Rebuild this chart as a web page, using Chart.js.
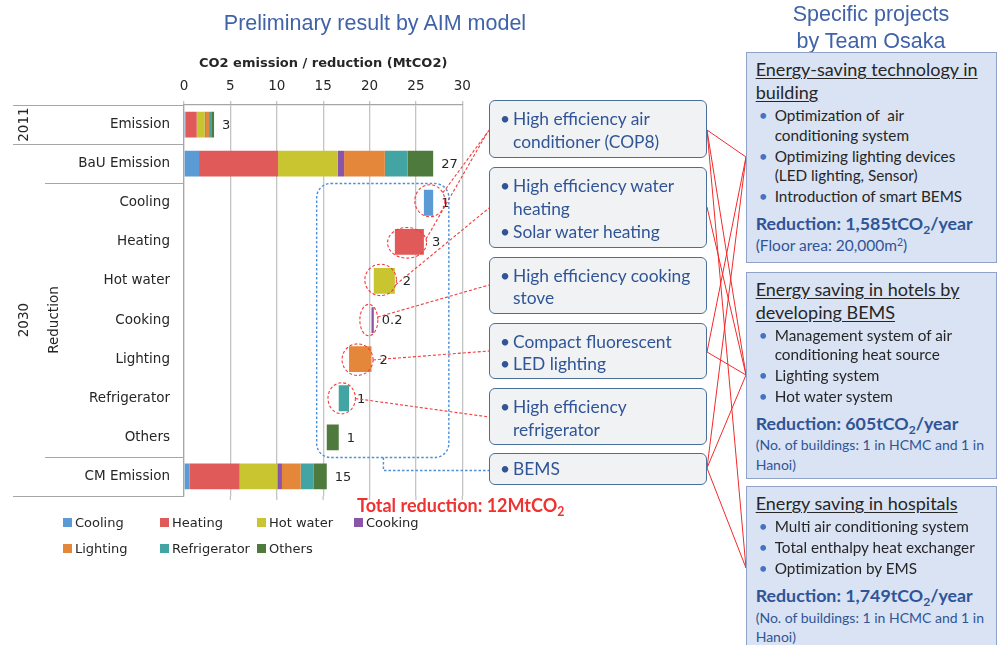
<!DOCTYPE html>
<html>
<head>
<meta charset="utf-8">
<script src="https://cdn.jsdelivr.net/npm/chart.js@4.4.0/dist/chart.umd.min.js"></script>
<style>
html,body{margin:0;padding:0;background:#fff;}
#wrap{position:relative;width:998px;height:645px;overflow:hidden;background:#fff;}
#c{position:absolute;left:0;top:0;}
.t{position:absolute;white-space:nowrap;}
.ttl{font-family:"Liberation Sans",Arial,sans-serif;font-size:21.5px;color:#4063a8;transform:translate(-50%,-50%);text-align:center;}
.mb{position:absolute;left:489px;width:218px;box-sizing:border-box;background:#f1f2f4;border:1.5px solid #4a6f98;border-radius:6px;padding-top:7px;font-family:Lato,sans-serif;font-size:17.4px;color:#2f5597;white-space:nowrap;}
.mi{position:relative;padding-left:23px;line-height:22.5px;}
.mi::before{content:'\2022';position:absolute;left:10px;}
.rb{position:absolute;left:746px;width:251px;box-sizing:border-box;background:#dae3f3;border:1.3px solid #8ea3c6;padding:5.2px 2px 0 8.7px;font-family:Lato,sans-serif;color:#262626;white-space:nowrap;}
.hd{font-size:18px;line-height:23px;text-decoration:underline;text-underline-offset:2px;}
.li{position:relative;font-size:15.3px;line-height:19.5px;padding-left:19px;margin-top:1.5px;}
.li::before{content:'\2022';position:absolute;left:3px;color:#4472c4;}
.red{font-weight:bold;color:#2f5597;font-size:17.8px;line-height:24px;margin-top:4px;}
.note{font-size:14px;line-height:19.3px;color:#2f5597;margin-top:0.5px;}
sub{font-size:0.68em;vertical-align:-0.3em;line-height:0;}
sup{font-size:0.68em;vertical-align:0.45em;line-height:0;}
#legend{position:absolute;left:0;top:0;}
.lg{position:absolute;font-family:"DejaVu Sans",Verdana,sans-serif;font-size:13px;color:#262626;white-space:nowrap;line-height:16px;transform:translateY(-50%);}
.lg i{display:inline-block;width:9px;height:9px;margin-right:3px;vertical-align:0px;}
#total{left:357px;top:505px;transform:translateY(-50%);font-family:Lato,sans-serif;font-weight:bold;font-size:18px;color:#f03232;}
</style>
</head>
<body>
<div id="wrap">
<canvas id="c" width="998" height="645"></canvas>

<div class="t ttl" style="left:375px;top:23px;">Preliminary result by AIM model</div>
<div class="t ttl" style="left:871px;top:28px;line-height:26.7px;">Specific projects<br>by Team Osaka</div>

<div class="mb" style="top:100px;height:58.3px;">
  <div class="mi">High efficiency air<br>conditioner (COP8)</div>
</div>
<div class="mb" style="top:167.3px;height:81px;">
  <div class="mi">High efficiency water<br>heating</div>
  <div class="mi" style="margin-top:1px;">Solar water heating</div>
</div>
<div class="mb" style="top:256.7px;height:57.3px;">
  <div class="mi">High efficiency cooking<br>stove</div>
</div>
<div class="mb" style="top:322.7px;height:56.6px;">
  <div class="mi">Compact fluorescent</div>
  <div class="mi">LED lighting</div>
</div>
<div class="mb" style="top:388.3px;height:56.7px;">
  <div class="mi">High efficiency<br>refrigerator</div>
</div>
<div class="mb" style="top:452.7px;height:32.3px;padding-top:4.5px;">
  <div class="mi">BEMS</div>
</div>

<div class="rb" style="top:52px;height:211px;">
  <div class="hd">Energy-saving technology in<br>building</div>
  <div class="li" style="margin-top:2px;">Optimization of&nbsp; air<br>conditioning system</div>
  <div class="li">Optimizing lighting devices<br>(LED lighting, Sensor)</div>
  <div class="li">Introduction of smart BEMS</div>
  <div class="red">Reduction: 1,585tCO<sub>2</sub>/year</div>
  <div class="note" style="font-size:15.5px;margin-top:1px;">(Floor area: 20,000m<sup>2</sup>)</div>
</div>
<div class="rb" style="top:271.7px;height:207px;">
  <div class="hd">Energy saving in hotels by<br>developing BEMS</div>
  <div class="li" style="margin-top:2px;">Management system of air<br>conditioning heat source</div>
  <div class="li">Lighting system</div>
  <div class="li">Hot water system</div>
  <div class="red">Reduction: 605tCO<sub>2</sub>/year</div>
  <div class="note">(No. of buildings: 1 in HCMC and 1 in<br>Hanoi)</div>
</div>
<div class="rb" style="top:486px;height:170px;">
  <div class="hd">Energy saving in hospitals</div>
  <div class="li" style="margin-top:2px;">Multi air conditioning system</div>
  <div class="li">Total enthalpy heat exchanger</div>
  <div class="li">Optimization by EMS</div>
  <div class="red" style="margin-top:4.5px;">Reduction: 1,749tCO<sub>2</sub>/year</div>
  <div class="note">(No. of buildings: 1 in HCMC and 1 in<br>Hanoi)</div>
</div>

<div class="t" id="total">Total reduction: 12MtCO<sub>2</sub></div>
<div id="legend"></div>
</div>

<script>
// ---------- data ----------
const categories = ["Emission","BaU Emission","Cooling","Heating","Hot water","Cooking","Lighting","Refrigerator","Others","CM Emission"];
const endUses = ["Cooling","Heating","Hot water","Cooking","Lighting","Refrigerator","Others"];
const emission2011    = [0.18, 1.19, 0.86, 0.11, 0.36, 0.32, 0.22];
const bauEmission2030 = [1.62, 8.52, 6.44, 0.68, 4.39, 2.45, 2.76];
const reduction2030   = [1.00, 3.13, 2.27, 0.25, 2.42, 1.11, 1.29];
const cmEmission2030  = [0.61, 5.39, 4.06, 0.50, 2.02, 1.37, 1.44];
const valueLabels = ["3","27","1","3","2","0.2","2","1","1","15"];
const xTicks = [0, 5, 10, 15, 20, 25, 30];
const axisTitle = "CO2 emission / reduction (MtCO2)";

// ---------- styles ----------
const colors = ["#5b9bd5","#e05a5a","#c8c531","#8a55a6","#e5873a","#43a5a3","#4e7a3d"];
const FONT = '"DejaVu Sans", Verdana, sans-serif';
const TXT = '#262626';

// waterfall positions for the reductions (from BaU total downward)
const bauTotal = bauEmission2030.reduce((a,b)=>a+b,0);
let run = bauTotal;
const redRanges = reduction2030.map(v => { const hi = run; run -= v; return [run, hi]; });

const datasets = endUses.map((name, k) => {
  const data = categories.map(() => null);
  data[0] = emission2011[k];
  data[1] = bauEmission2030[k];
  data[2 + k] = redRanges[k];
  data[9] = cmEmission2030[k];
  return { label: name, data, backgroundColor: colors[k], borderWidth: 0,
           barPercentage: 0.66, categoryPercentage: 1.0 };
});

// legend (HTML, built from the data arrays)
const legendPos = [[63,523],[160,523],[257,523],[354,523],[63,549],[160,549],[257,549]];
const lgEl = document.getElementById('legend');
endUses.forEach((n,k) => {
  const d = document.createElement('div');
  d.className = 'lg';
  d.style.left = legendPos[k][0] + 'px';
  d.style.top = legendPos[k][1] + 'px';
  d.innerHTML = '<i style="background:' + colors[k] + '"></i>' + n;
  lgEl.appendChild(d);
});

// ---------- plugins ----------
const valueLabelPlugin = {
  id: 'valueLabels',
  afterDatasetsDraw(chart) {
    const ctx = chart.ctx;
    ctx.save();
    ctx.font = '13px ' + FONT;
    ctx.fillStyle = TXT;
    ctx.textBaseline = 'middle';
    ctx.textAlign = 'left';
    categories.forEach((c, i) => {
      let maxX = -Infinity, yy = null;
      chart.data.datasets.forEach((ds, k) => {
        if (ds.data[i] === null) return;
        const el = chart.getDatasetMeta(k).data[i];
        const e = Math.max(el.x, el.base);
        if (e > maxX) { maxX = e; yy = el.y; }
      });
      if (yy !== null) ctx.fillText(valueLabels[i], maxX + 8, yy + 1);
    });
    ctx.restore();
  }
};

const rings = [
  {k:0, rx:15,   ry:16,   dx:1.3,  dy:-2,  ang:-30, to:[490,129]},
  {k:1, rx:19.5, ry:15.3, dx:-2.3, dy:1,   ang:-14, to:[487,133]},
  {k:2, rx:15.8, ry:15.7, dx:-3.7, dy:-1,  ang:18,  to:[489,208]},
  {k:3, rx:9,    ry:15.7, dx:-3.8, dy:0,   ang:-11, to:[489,285]},
  {k:4, rx:15.5, ry:15.8, dx:-2.7, dy:0.5, ang:1,   to:[489,351]},
  {k:5, rx:13.7, ry:15.5, dx:-2.2, dy:0,   ang:1,   to:[489,417]},
];
const links = [[130,157],[130,375],[130,568],[207,375],[352,157],[352,375],[468,157],[468,375],[468,568]];

const decoPlugin = {
  id: 'deco',
  afterDraw(chart) {
    const {ctx, chartArea: ca, scales: {x, y}} = chart;
    const L = (x1,y1,x2,y2) => { ctx.beginPath(); ctx.moveTo(x1,y1); ctx.lineTo(x2,y2); ctx.stroke(); };
    ctx.save();
    // category axis structure
    ctx.strokeStyle = '#a6a6a6'; ctx.lineWidth = 1.2;
    const cy = i => y.getPixelForValue(i);
    const b1 = Math.round((cy(0)+cy(1))/2)+0.5;
    const b2 = Math.round((cy(1)+cy(2))/2)+0.5;
    const b8 = Math.round((cy(8)+cy(9))/2)+0.5;
    L(13, Math.round(ca.top)+0.5, ca.left, Math.round(ca.top)+0.5);
    L(13, b1, ca.left, b1);
    L(45, b2, ca.left, b2);
    L(45, b8, ca.left, b8);
    L(13, Math.round(ca.bottom)+0.5, ca.left, Math.round(ca.bottom)+0.5);
    // grid extensions at the bottom
    ctx.strokeStyle = '#c4c4c4'; ctx.lineWidth = 1.3;
    xTicks.forEach(t => { if (t === 0) return; const px = x.getPixelForValue(t); L(px, ca.bottom, px, ca.bottom + 4); });
    // rotated group labels
    ctx.fillStyle = TXT; ctx.font = '13.5px ' + FONT; ctx.textAlign = 'center'; ctx.textBaseline = 'middle';
    const rot = (s, px, py) => { ctx.save(); ctx.translate(px, py); ctx.rotate(-Math.PI/2); ctx.fillText(s, 0, 0); ctx.restore(); };
    rot('2011', 24, cy(0));
    rot('2030', 24, (cy(1)+cy(9))/2);
    rot('Reduction', 54, (cy(2)+cy(8))/2);

    // blue dotted rounded box around the reductions + connector to BEMS
    ctx.strokeStyle = '#4a8fd8'; ctx.lineWidth = 1.4; ctx.setLineDash([2.5, 2]);
    const bl = x.getPixelForValue(14.3), br = x.getPixelForValue(28.55);
    ctx.beginPath(); ctx.roundRect(bl, b2, br - bl, b8 - b2, 14); ctx.stroke();
    const cxp = x.getPixelForValue(21.5);
    const by = cy(9) - 6;
    ctx.beginPath(); ctx.moveTo(cxp, b8); ctx.lineTo(cxp, by); ctx.lineTo(489, by); ctx.stroke();

    // red dashed ellipses + connectors
    ctx.strokeStyle = '#f23b3b'; ctx.lineWidth = 1.1; ctx.setLineDash([3, 2]);
    rings.forEach(r => {
      const el = chart.getDatasetMeta(r.k).data[2 + r.k];
      const mx = (el.x + el.base)/2 + r.dx, my = el.y + r.dy;
      ctx.beginPath(); ctx.ellipse(mx, my, r.rx, r.ry, 0, 0, Math.PI*2); ctx.stroke();
      const a = r.ang * Math.PI/180;
      L(mx + r.rx*Math.cos(a), my + r.ry*Math.sin(a), r.to[0], r.to[1]);
    });
    // solid red links between technology boxes and projects
    ctx.setLineDash([]); ctx.strokeStyle = '#f22a2a'; ctx.lineWidth = 1;
    links.forEach(l => L(707, l[0], 746, l[1]));
    ctx.restore();
  }
};

// ---------- chart ----------
new Chart(document.getElementById('c'), {
  type: 'bar',
  data: { labels: categories, datasets },
  options: {
    indexAxis: 'y',
    responsive: false,
    animation: false,
    devicePixelRatio: 1,
    layout: { padding: { left: 0, top: 0, right: 998 - 462.3, bottom: 149 } },
    plugins: { legend: { display: false }, tooltip: { enabled: false } },
    scales: {
      x: {
        position: 'top', stacked: true, min: 0, max: 30,
        afterBuildTicks: s => { s.ticks = xTicks.map(v => ({ value: v })); },
        afterFit: s => { s.height = 105; },
        grid: { color: '#c4c4c4', lineWidth: 1.3, tickLength: 4, drawTicks: true },
        border: { display: true, color: '#a6a6a6', width: 1.2 },
        ticks: { font: { family: FONT, size: 13.5 }, color: TXT, padding: 6, maxRotation: 0 },
        title: { display: true, text: axisTitle, font: { family: FONT, size: 13, weight: 'bold' }, color: TXT, padding: { top: 56, bottom: 0 } }
      },
      y: {
        stacked: true,
        afterFit: s => { s.width = 184; },
        grid: { display: false, drawTicks: false, tickLength: 0 },
        border: { display: true, color: '#a6a6a6', width: 1.2 },
        ticks: { font: { family: FONT, size: 13.5 }, color: TXT, padding: 14 }
      }
    }
  },
  plugins: [valueLabelPlugin, decoPlugin]
});
</script>
</body>
</html>
